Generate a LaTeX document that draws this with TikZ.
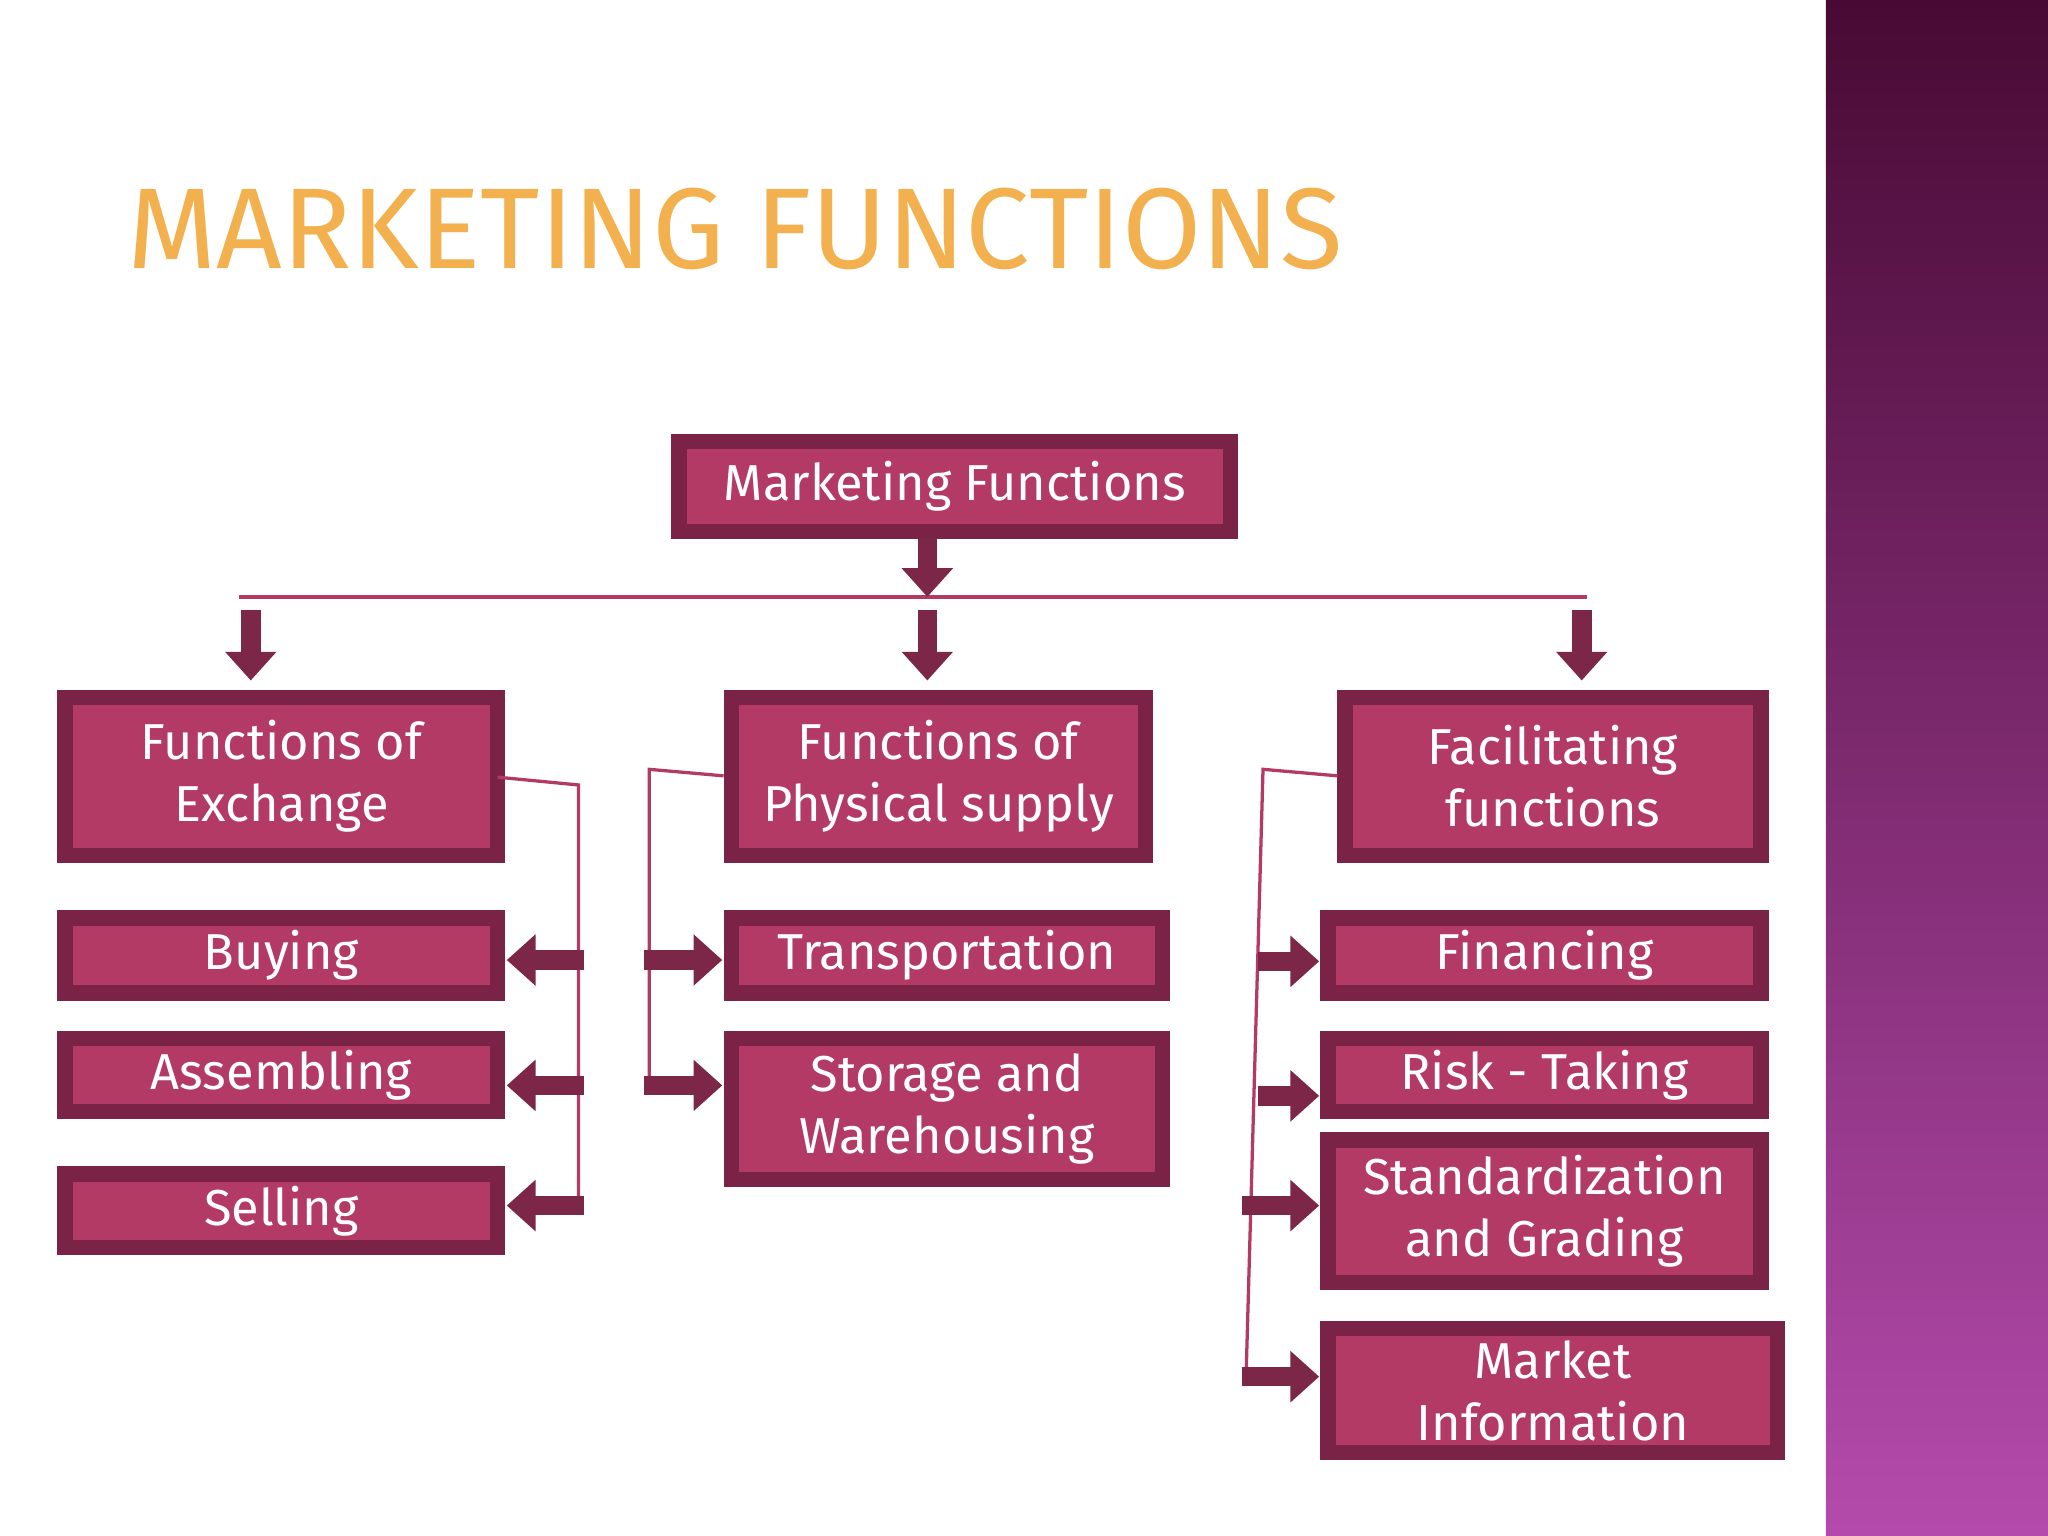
\documentclass[tikz,border=0pt]{standalone}
\usepackage{fontspec}
\setmainfont{Fira Sans}
\usetikzlibrary{arrows.meta}
\definecolor{boxfill}{HTML}{B33A64}
\definecolor{boxedge}{HTML}{7A2346}
\definecolor{arr}{HTML}{7C2648}
\definecolor{ttl}{HTML}{F3B04E}
\begin{document}
\begin{tikzpicture}[x=0.1mm,y=-0.1mm,
  fbox/.style={draw=boxedge,line width=1.2mm,fill=boxfill,text=white,font=\fontsize{11}{13.5}\selectfont,align=center,inner sep=0pt},
  thin/.style={draw=boxfill,line width=0.25mm},
  fat/.style={draw=arr,line width=1.5mm,-{Triangle[length=2.2mm,width=3.8mm]}}]
\useasboundingbox (0,0) rectangle (1568,1176);
\fill[white] (0,0) rectangle (1398,1176);
\shade[top color={rgb,255:red,72;green,10;blue,52},bottom color={rgb,255:red,180;green,75;blue,172}] (1398,0) rectangle (1568,1176);
\node[anchor=west,text=ttl,draw=none,font=\fontsize{25}{28}\selectfont] (title) at (85,175) {MARKETING FUNCTIONS};
\newcommand\mybox[6]{\node[fbox,minimum width=#4*0.1mm-#2*0.1mm,minimum height=#5*0.1mm-#3*0.1mm] (#1) at ({(#2+#4)/2},{(#3+#5)/2}) {#6};}
\mybox{top}{520}{338}{942}{407}{Marketing Functions}
\mybox{ex}{50}{534}{381}{655}{Functions of\\Exchange}
\mybox{ph}{560}{534}{877}{655}{Functions of\\Physical supply}
\mybox{fa}{1030}{534}{1348}{655}{Facilitating\\functions}
\mybox{buy}{50}{703}{381}{760}{Buying}
\mybox{ass}{50}{795}{381}{851}{Assembling}
\mybox{sel}{50}{899}{381}{955}{Selling}
\mybox{tr}{560}{703}{890}{760}{Transportation}
\mybox{st}{560}{795}{890}{903}{Storage and\\Warehousing}
\mybox{fin}{1017}{703}{1348}{760}{Financing}
\mybox{risk}{1017}{795}{1348}{851}{Risk - Taking}
\mybox{std}{1017}{873}{1348}{982}{Standardization\\and Grading}
\mybox{mi}{1017}{1017}{1361}{1112}{Market\\Information}
% top distribution
\coordinate (hl) at (183,457); \coordinate (hr) at (1215,457); \coordinate (hm) at (710,457);
\draw[thin] (hl) -- (hr);
\draw[fat] (top.south -| hm) -- (hm);
\coordinate (a1) at (192,467); \coordinate (a2) at (710,467); \coordinate (a3) at (1211,467);
\draw[fat] (a1) -- (192,521);
\draw[fat] (a2) -- (710,521);
\draw[fat] (a3) -- (1211,521);
% left bracket
\coordinate (l1) at (443,601); \coordinate (l2) at (443,928);
\draw[thin] (381,595) -- (l1) -- (l2);
\draw[fat] (447,735) -- (388,735);
\draw[fat] (447,831) -- (388,831);
\draw[fat] (447,923) -- (388,923);
% middle bracket
\coordinate (m1) at (497,589); \coordinate (m2) at (497,835);
\draw[thin] (ph.west |- 0,594) -- (m1) -- (m2);
\draw[fat] (493,735) -- (553,735);
\draw[fat] (493,831) -- (553,831);
% right bracket
\coordinate (r1) at (967,589); \coordinate (r2) at (954,1055);
\draw[thin] (fa.west |- 0,594) -- (r1) -- (r2);
\draw[fat] (963,736) -- (1010,736);
\draw[fat] (963,839) -- (1010,839);
\draw[fat] (951,923) -- (1010,923);
\draw[fat] (951,1054) -- (1010,1054);
\end{tikzpicture}
\end{document}
